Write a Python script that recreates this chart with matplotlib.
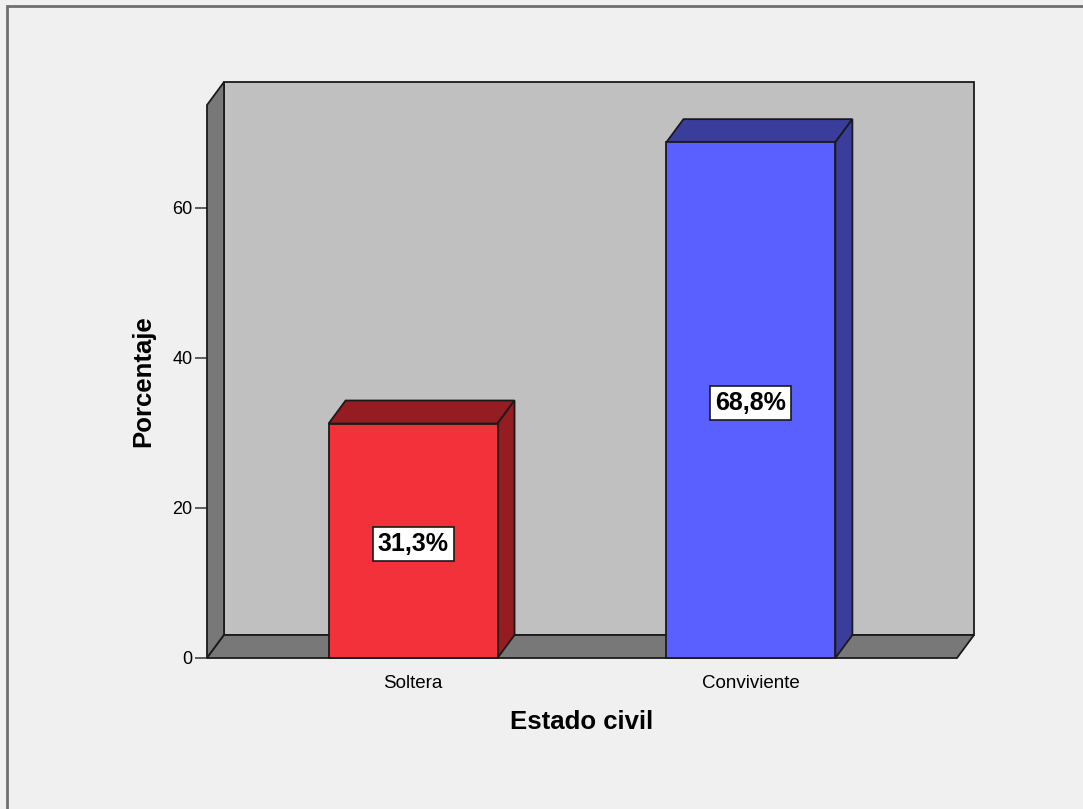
import numpy as np
import matplotlib
matplotlib.use("Agg")
import matplotlib.pyplot as plt
from matplotlib.patches import Polygon, Rectangle

# data
categories = ["Soltera", "Conviviente"]
percentages = [31.25, 68.75]
bar_labels = ["31,3%", "68,8%"]
yticks = [0, 20, 40, 60]

front_colors = ["#f2313a", "#5a5fff"]
shade_colors = ["#951c21", "#3a3d9b"]

plt.rcParams["font.family"] = ["Liberation Sans", "DejaVu Sans"]

W, H = 1083, 809
fig = plt.figure(figsize=(W / 100, H / 100), dpi=100)
fig.patch.set_facecolor("#f0f0f0")

# outer frame (right/bottom edges fall outside the picture)
fig.patches.append(Rectangle((7 / W, -0.05), 1.2, 1 - 6 / H + 0.05,
                             transform=fig.transFigure, fill=False,
                             edgecolor="#6e6e6e", linewidth=2))

ax = fig.add_axes([207 / W, (H - 658) / H, 750 / W, 553 / H])
xmin, xmax = -0.61, 1.61
ymax = 73.7
ax.set_xlim(xmin, xmax)
ax.set_ylim(0, ymax)
ax.patch.set_visible(False)
for s in ax.spines.values():
    s.set_visible(False)

# depth of the 3D effect in pixels, converted to data units
p0 = ax.transData.transform((0, 0))
dx, dy = ax.transData.inverted().transform(p0 + np.array([17, 23]))

edge = "#1a1a1a"
lw = 1.3
wall = "#c0c0c0"
side = "#787878"

# back wall
ax.add_patch(Polygon([(xmin + dx, dy), (xmax + dx, dy), (xmax + dx, ymax + dy),
                      (xmin + dx, ymax + dy)], closed=True, facecolor=wall,
                     edgecolor=edge, lw=lw, clip_on=False, zorder=1))
# left wall
ax.add_patch(Polygon([(xmin, 0), (xmin, ymax), (xmin + dx, ymax + dy), (xmin + dx, dy)],
                     closed=True, facecolor=side, edgecolor=edge, lw=lw,
                     clip_on=False, zorder=2))
# floor
ax.add_patch(Polygon([(xmin, 0), (xmax, 0), (xmax + dx, dy), (xmin + dx, dy)],
                     closed=True, facecolor=side, edgecolor=edge, lw=lw,
                     clip_on=False, zorder=2))

# bars
bw = 0.5
for i, (v, fc, sc, lab) in enumerate(zip(percentages, front_colors, shade_colors, bar_labels)):
    x0, x1 = i - bw / 2, i + bw / 2
    ax.add_patch(Polygon([(x0, v), (x1, v), (x1 + dx, v + dy), (x0 + dx, v + dy)],
                         closed=True, facecolor=sc, edgecolor=edge, lw=lw,
                         clip_on=False, zorder=3))
    ax.add_patch(Polygon([(x1, 0), (x1 + dx, dy), (x1 + dx, v + dy), (x1, v)],
                         closed=True, facecolor=sc, edgecolor=edge, lw=lw,
                         clip_on=False, zorder=3))
    ax.add_patch(Rectangle((x0, 0), bw, v, facecolor=fc, edgecolor=edge, lw=lw,
                           clip_on=False, zorder=4))
    ax.text(i, v / 2 - 0.4, lab, ha="center", va="center", fontsize=18, fontweight="bold",
            zorder=5, bbox=dict(boxstyle="square,pad=0.2", facecolor="white",
                                edgecolor=edge, lw=1.2))

ax.set_yticks(yticks)
ax.set_xticks(range(len(categories)), categories)
ax.tick_params(axis="y", length=9, width=1.2, color="#444444", labelsize=13, pad=1.5)
ax.tick_params(axis="x", length=0, labelsize=13.5, pad=12)

fig.text(143 / W, 1 - 381 / H, "Porcentaje", rotation=90, ha="center", va="center",
         fontsize=18.5, fontweight="bold")
fig.text(582 / W, 1 - 722 / H, "Estado civil", ha="center", va="center",
         fontsize=18.5, fontweight="bold")

fig.savefig("out.png", dpi=100, facecolor=fig.get_facecolor())
